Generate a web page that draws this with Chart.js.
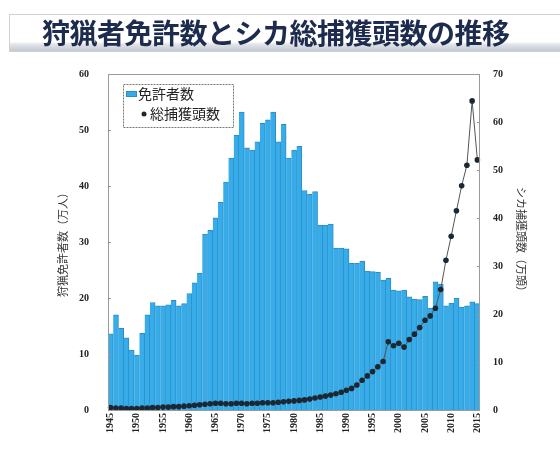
<!DOCTYPE html>
<html>
<head>
<meta charset="utf-8">
<script src="https://cdn.jsdelivr.net/npm/chart.js@4.4.1/dist/chart.umd.min.js"></script>
<style>
	body { margin: 0; background: #fff; }
	#wrap { position: relative; width: 560px; height: 450px; overflow: hidden; background: #fff; }
	#head {
		position: absolute; left: 9px; top: 14px; width: 560px; height: 38px;
		border: 1px solid #cfd1d6; border-right: none; box-sizing: border-box;
		background: linear-gradient(to bottom, #fff 0%, #fff 74%, #e1e3e8 82%, #c5c9d1 100%);
	}
	#head span {
		position: absolute; left: 32px; top: 3px; line-height: 28px;
		font-family: "Noto Sans CJK JP"; font-weight: bold; font-size: 28px;
		letter-spacing: -0.5px; color: #1d2c4e; white-space: nowrap;
	}
	canvas { position: absolute; left: 0; top: 0; }
</style>
</head>
<body>
<div id="wrap">
	<canvas id="chart" width="560" height="450"></canvas>
	<div id="head"><span>狩猟者免許数とシカ総捕獲頭数の推移</span></div>
</div>
<script>
	// 1945 - 2015
	var years = [];
	for (var y = 1945; y <= 2015; y++) years.push(y);

	// 狩猟免許者数（万人）
	var licenses = [
		13.6, 17.0, 14.6, 12.9, 10.7, 9.8, 13.7, 17.0, 19.2, 18.6,
		18.6, 18.8, 19.6, 18.6, 19.0, 20.8, 22.7, 24.4, 31.4, 32.1,
		34.3, 37.1, 40.7, 45.0, 49.1, 53.2, 46.8, 46.4, 47.9, 51.2,
		51.8, 53.2, 47.9, 51.0, 45.0, 46.4, 47.1, 39.2, 38.5, 39.0,
		33.0, 33.0, 33.2, 28.9, 28.9, 28.8, 26.2, 26.2, 26.6, 24.8,
		24.7, 24.6, 23.2, 23.5, 21.4, 21.3, 21.4, 20.2, 19.8, 19.7,
		20.3, 18.2, 22.9, 22.5, 18.6, 19.1, 20.0, 18.4, 18.6, 19.3,
		19.0
	];

	// シカ総捕獲頭数（万頭）
	var deerCatch = [
		0.5, 0.4, 0.4, 0.3, 0.3, 0.3, 0.4, 0.4, 0.5, 0.5,
		0.6, 0.6, 0.7, 0.7, 0.8, 0.9, 1.0, 1.1, 1.2, 1.3,
		1.4, 1.4, 1.3, 1.3, 1.4, 1.4, 1.3, 1.4, 1.4, 1.5,
		1.5, 1.5, 1.6, 1.7, 1.8, 1.9, 2.0, 2.1, 2.3, 2.5,
		2.7, 2.9, 3.1, 3.4, 3.7, 4.1, 4.5, 5.2, 6.2, 7.1,
		8.0, 9.0, 10.1, 14.2, 13.4, 13.9, 13.1, 14.7, 15.8, 17.2,
		18.7, 19.6, 21.2, 25.1, 31.2, 36.2, 41.5, 46.7, 51.0, 64.4,
		52.1
	];

	// years shown on the x axis
	var yearLabels = [1945, 1950, 1955, 1960, 1965, 1970, 1975, 1980, 1985, 1990, 1995, 2000, 2005, 2010, 2015];

	var seriesNames = ['免許者数', '総捕獲頭数'];
	var leftTitle = '狩猟免許者数（万人）';
	var rightTitle = 'シカ捕獲頭数（万頭）';

	var barColor = '#38ace8';
	var dotColor = '#1b2733';
	var tickFont = { family: 'Liberation Serif', weight: 'bold', size: 10 };
	var cjkFont = 'Noto Sans CJK JP';

	// frame, small inward ticks and the legend box
	var decor = {
		id: 'decor',
		afterDraw: function(chart) {
			var ctx = chart.ctx, a = chart.chartArea;
			ctx.save();
			ctx.strokeStyle = '#9a9a9a';
			ctx.lineWidth = 1;
			ctx.strokeRect(a.left + 0.5, a.top + 0.5, a.right - a.left - 1, a.bottom - a.top);

			ctx.beginPath();
			chart.scales.y.ticks.forEach(function(t) {
				var py = Math.round(chart.scales.y.getPixelForValue(t.value)) + 0.5;
				ctx.moveTo(a.left, py); ctx.lineTo(a.left + 3, py);
			});
			chart.scales.y2.ticks.forEach(function(t) {
				var py = Math.round(chart.scales.y2.getPixelForValue(t.value)) + 0.5;
				ctx.moveTo(a.right, py); ctx.lineTo(a.right - 3, py);
			});
			ctx.stroke();

			// legend
			var lx = 123, ly = 84, lw = 110, lh = 43;
			ctx.fillStyle = '#fff';
			ctx.fillRect(lx, ly, lw, lh);
			ctx.setLineDash([2, 1]);
			ctx.strokeStyle = '#777';
			ctx.strokeRect(lx + 0.5, ly + 0.5, lw, lh);
			ctx.setLineDash([]);

			ctx.fillStyle = barColor;
			ctx.fillRect(lx + 3, ly + 7, 11, 6);
			ctx.strokeStyle = '#2b8dc4';
			ctx.strokeRect(lx + 3.5, ly + 7.5, 10, 5);

			ctx.fillStyle = dotColor;
			ctx.beginPath();
			ctx.arc(lx + 21, ly + 30, 2.5, 0, Math.PI * 2);
			ctx.fill();

			ctx.fillStyle = '#222';
			ctx.font = '14px "' + cjkFont + '"';
			ctx.textBaseline = 'middle';
			ctx.fillText(seriesNames[0], lx + 15, ly + 10);
			ctx.fillText(seriesNames[1], lx + 27, ly + 30);
			ctx.restore();
		}
	};

	new Chart(document.getElementById('chart').getContext('2d'), {
		data: {
			labels: years,
			datasets: [{
				type: 'line',
				label: seriesNames[1],
				data: deerCatch,
				yAxisID: 'y2',
				order: 0,
				borderColor: '#555',
				borderWidth: 1,
				pointRadius: 2.8,
				pointBackgroundColor: dotColor,
				pointBorderWidth: 0,
				tension: 0
			}, {
				type: 'bar',
				label: seriesNames[0],
				data: licenses,
				yAxisID: 'y',
				order: 1,
				backgroundColor: barColor,
				borderColor: '#2b8dc4',
				borderWidth: { top: 1, right: 1, left: 0, bottom: 0 },
				borderSkipped: false,
				categoryPercentage: 1.0,
				barPercentage: 1.0
			}]
		},
		options: {
			responsive: false,
			animation: false,
			layout: { padding: { left: 56, right: 0, top: 74, bottom: 0 } },
			plugins: { legend: { display: false }, tooltip: { enabled: false } },
			scales: {
				x: {
					grid: { display: false, drawTicks: false },
					border: { display: false },
					ticks: {
						autoSkip: false, maxRotation: 90, minRotation: 90,
						font: tickFont, color: '#222', padding: 3,
						callback: function(v, i) {
							return yearLabels.indexOf(years[i]) >= 0 ? String(years[i]) : '';
						}
					},
					afterFit: function(s) { s.height = 40; }
				},
				y: {
					position: 'left', min: 0, max: 60,
					grid: { display: false, drawTicks: false },
					border: { display: false },
					ticks: { stepSize: 10, font: tickFont, color: '#222', padding: 19 },
					title: {
						display: true, text: leftTitle, color: '#333',
						font: { family: cjkFont, size: 11 }, padding: 0
					},
					afterFit: function(s) { s.width = 52; }
				},
				y2: {
					position: 'right', min: 0, max: 70,
					grid: { display: false, drawTicks: false },
					border: { display: false },
					ticks: { stepSize: 10, font: tickFont, color: '#222', padding: 13 },
					title: {
						display: true, text: rightTitle, color: '#333',
						font: { family: cjkFont, size: 11 }, padding: { top: 32, bottom: 0 }
					},
					afterFit: function(s) { s.width = 80; }
				}
			}
		},
		plugins: [decor]
	});
</script>
</body>
</html>
